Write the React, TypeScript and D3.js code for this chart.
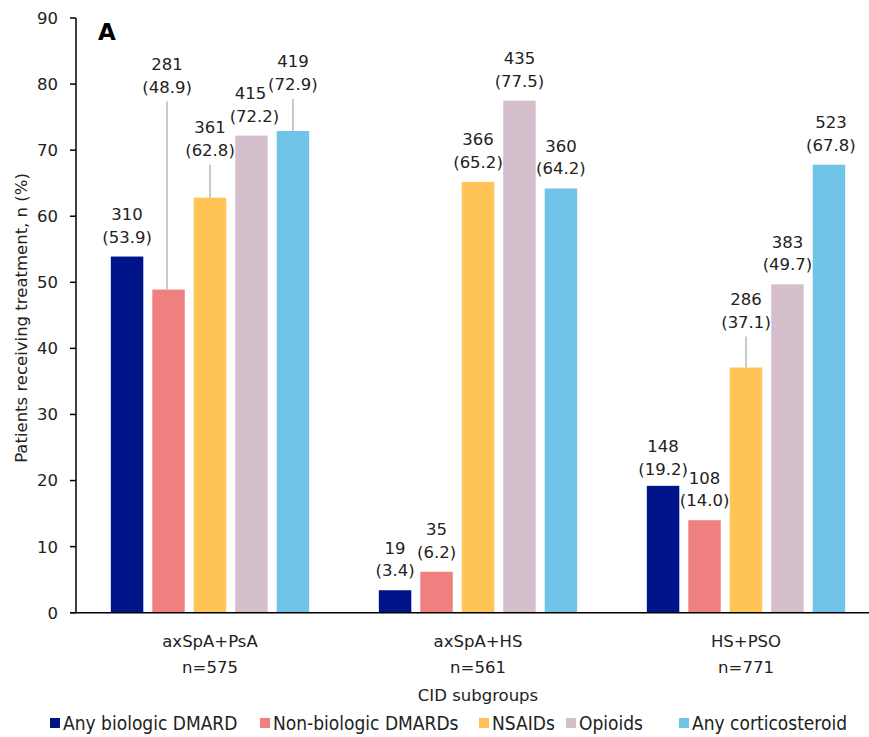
import React from "react";
import * as d3 from "d3";

const groups = ["axSpA+PsA", "axSpA+HS", "HS+PSO"];
const groupN = ["n=575", "n=561", "n=771"];
const seriesNames = ["Any biologic DMARD", "Non-biologic DMARDs", "NSAIDs", "Opioids", "Any corticosteroid"];
const seriesColors = ["#001489", "#F08080", "#FFC455", "#D5BFCC", "#70C4E8"];
// counts and percentages per series, in group order
const biologicN = [310, 19, 148];
const biologicPct = [53.9, 3.4, 19.2];
const nonBiologicN = [281, 35, 108];
const nonBiologicPct = [48.9, 6.2, 14.0];
const nsaidN = [361, 366, 286];
const nsaidPct = [62.8, 65.2, 37.1];
const opioidN = [415, 435, 383];
const opioidPct = [72.2, 77.5, 49.7];
const steroidN = [419, 360, 523];
const steroidPct = [72.9, 64.2, 67.8];
const yTicks = [0, 10, 20, 30, 40, 50, 60, 70, 80, 90];

const seriesN = [biologicN, nonBiologicN, nsaidN, opioidN, steroidN];
const seriesPct = [biologicPct, nonBiologicPct, nsaidPct, opioidPct, steroidPct];

// label layout tweaks (pixels), keyed "group-series"
const labelLayout: Record<string, { lift: number; dx2?: number; dx?: number }> = {
  "0-1": { lift: 183, dx: -1.5 },
  "0-2": { lift: 28 },
  "0-3": { lift: 0, dx: -1, dx2: 4 },
  "0-4": { lift: 27 },
  "2-0": { lift: -3 },
  "2-2": { lift: 26 },
  "2-4": { lift: 0, dx: 2 },
};
const legendX = [50, 260, 479, 566, 679];

const W = 869;
const H = 737;
const FONT = "'DejaVu Sans', Verdana, sans-serif";

export default function App() {
  const x0 = d3.scaleBand<string>().domain(groups).range([76, 880]).paddingInner(0).paddingOuter(0);
  const x1 = d3
    .scaleBand<string>()
    .domain(seriesNames)
    .range([0, x0.bandwidth()])
    .paddingInner(0.217)
    .paddingOuter(0.84);
  const y = d3.scaleLinear().domain([0, 90]).range([612.7, 18]);

  const bars: React.ReactNode[] = [];
  const labels: React.ReactNode[] = [];
  groups.forEach((g, gi) => {
    seriesNames.forEach((s, si) => {
      const v = seriesPct[si][gi];
      const bx = (x0(g) as number) + (x1(s) as number);
      const bw = x1.bandwidth();
      const top = y(v);
      bars.push(
        <rect key={`b-${gi}-${si}`} x={bx} y={top} width={bw} height={y(0) - top} fill={seriesColors[si]} />
      );
      const lay = labelLayout[`${gi}-${si}`] || { lift: 0 };
      const cx = bx + bw / 2 + (lay.dx || 0);
      const l2 = top - 14 - lay.lift;
      const l1 = l2 - 22.5;
      if (lay.lift > 10) {
        labels.push(
          <line
            key={`ld-${gi}-${si}`}
            x1={cx}
            x2={cx}
            y1={l2 + 9}
            y2={top}
            stroke="#A6A6A6"
            strokeWidth={1.2}
          />
        );
      }
      labels.push(
        <g key={`l-${gi}-${si}`} fontFamily={FONT} fontSize={16.5} fill="#222" textAnchor="middle">
          <text x={cx} y={l1}>{seriesN[si][gi]}</text>
          <text x={cx + (lay.dx2 || 0)} y={l2}>({v.toFixed(1)})</text>
        </g>
      );
    });
  });

  return (
    <div style={{ position: "fixed", left: 0, top: 0, width: W, height: H, background: "#fff" }}>
      <svg width={W} height={H} style={{ display: "block", overflow: "hidden" }}>
        <rect x={0} y={0} width={W} height={H} fill="#fff" />
        {bars}
        {labels}
        {/* y axis */}
        <line x1={76} x2={76} y1={y(90)} y2={y(0)} stroke="#000" strokeWidth={1.5} />
        {yTicks.map((t) => (
          <g key={`t-${t}`}>
            <line x1={70} x2={76} y1={y(t)} y2={y(t)} stroke="#000" strokeWidth={1.5} />
            <text x={58} y={y(t)} dy="0.36em" textAnchor="end" fontFamily={FONT} fontSize={16.5} fill="#222">
              {t}
            </text>
          </g>
        ))}
        {/* x axis */}
        <line x1={70} x2={880} y1={y(0)} y2={y(0)} stroke="#000" strokeWidth={1.5} />
        {groups.map((g, gi) => (
          <g key={`g-${g}`} fontFamily={FONT} fontSize={16.5} fill="#222" textAnchor="middle">
            <text x={(x0(g) as number) + x0.bandwidth() / 2} y={647}>{g}</text>
            <text x={(x0(g) as number) + x0.bandwidth() / 2} y={673}>{groupN[gi]}</text>
          </g>
        ))}
        <text x={478} y={701} textAnchor="middle" fontFamily={FONT} fontSize={16.5} fill="#222">
          CID subgroups
        </text>
        <text
          transform={`translate(27, 318) rotate(-90)`}
          textAnchor="middle"
          fontFamily={FONT}
          fontSize={16.5}
          fill="#222"
        >
          Patients receiving treatment, n (%)
        </text>
        <text x={98} y={40} fontFamily={FONT} fontWeight="bold" fontSize={23} fill="#000">
          A
        </text>
        {/* legend */}
        {seriesNames.map((s, si) => (
          <g key={`lg-${si}`}>
            <rect x={legendX[si]} y={718} width={10} height={10} fill={seriesColors[si]} />
            <text
              x={legendX[si] + 13}
              y={730}
              fontFamily="'DejaVu Sans Condensed', 'DejaVu Sans', sans-serif"
              fontSize={19}
              fill="#222"
            >
              {s}
            </text>
          </g>
        ))}
      </svg>
    </div>
  );
}
